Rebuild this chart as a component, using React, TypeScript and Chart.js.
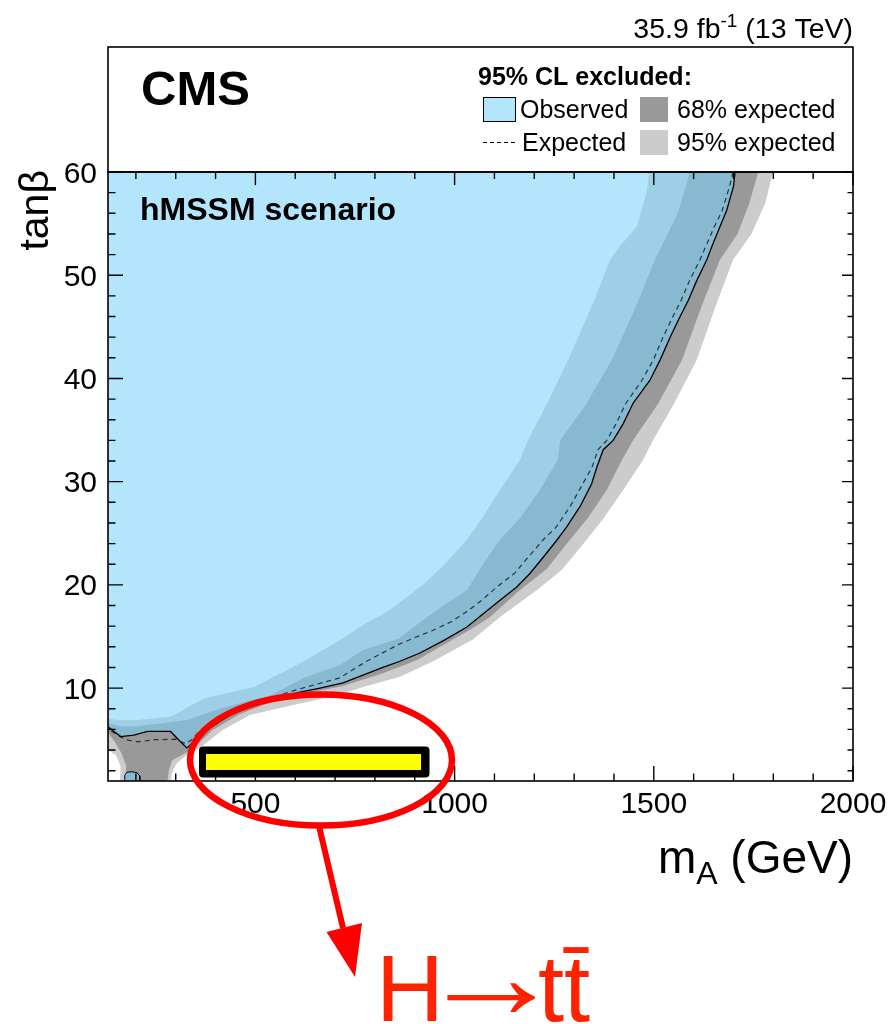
import { useEffect, useRef } from "react";
import { Chart, registerables } from "chart.js";

Chart.register(...registerables);

// Axis ranges
const M_MIN = 130;
const M_MAX = 2000;
const TB_MIN = 1;
const TB_MAX = 60;

// Labelled (major) ticks
const xMajorLabels = [500, 1000, 1500, 2000];
const yMajorLabels = [10, 20, 30, 40, 50, 60];

// Observed 95% CL contour, traced from tanβ = 60 down to the low-mass edge
const obsMass = [1704, 1700, 1683, 1666, 1649, 1633, 1608, 1587, 1566, 1541, 1516, 1490, 1448, 1423, 1398, 1373, 1357, 1344, 1315, 1281, 1256, 1223, 1189, 1156, 1114, 1072, 1030, 972, 913, 863, 820, 720, 662, 612, 512, 436, 373, 328, 312, 287, 229, 195, 162, 145, 130];
const obsTanb = [60, 58.6, 56.3, 54.7, 53.1, 51.5, 49.5, 47.6, 46.0, 44.0, 41.8, 39.8, 37.6, 35.6, 34.0, 33.1, 31.4, 29.8, 27.6, 25.6, 24.3, 22.7, 21.1, 19.8, 18.5, 17.2, 15.9, 14.6, 13.4, 12.6, 12.0, 10.5, 10.0, 9.6, 8.6, 7.4, 5.8, 4.2, 4.8, 5.8, 5.8, 5.45, 5.3, 5.8, 6.25];

// Median expected contour
const expMass = [1699, 1690, 1672, 1652, 1634, 1616, 1590, 1569, 1548, 1523, 1499, 1470, 1430, 1405, 1382, 1360, 1345, 1322, 1290, 1255, 1223, 1185, 1150, 1106, 1068, 1030, 990, 946, 863, 779, 712, 600, 500, 420, 361, 340, 325, 300, 250, 205, 175, 155, 140, 130];
const expTanb = [60, 58.6, 56.3, 54.7, 53.1, 51.5, 49.5, 47.6, 46.0, 44.0, 41.8, 39.8, 37.6, 35.6, 34.0, 33.1, 31.4, 29.8, 27.6, 25.6, 24.4, 22.7, 21.1, 19.8, 18.5, 17.4, 16.4, 15.6, 14.3, 12.6, 11.0, 9.8, 8.6, 7.3, 5.9, 5.0, 4.6, 5.05, 5.0, 4.8, 5.0, 5.4, 5.8, 6.2];

// Expected -2σ edge
const minus2Mass = [1488, 1482, 1457, 1415, 1390, 1350, 1285, 1235, 1184, 1164, 1114, 1070, 1031, 975, 920, 838, 779, 710, 617, 496, 371, 287, 204, 160, 130];
const minus2Tanb = [60, 58, 54.7, 52.8, 51.5, 47.5, 41.8, 37.8, 34.0, 32.1, 29.2, 26.5, 24.4, 22.0, 20.0, 17.6, 16.3, 14.6, 12.5, 10.1, 9.0, 7.22, 6.9, 6.9, 7.0];

// Expected -1σ edge
const minus1Mass = [1591, 1560, 1503, 1450, 1395, 1330, 1265, 1259, 1214, 1165, 1114, 1075, 1031, 963, 900, 860, 770, 710, 622, 538, 413, 329, 204, 160, 130];
const minus1Tanb = [60, 56, 51.5, 46.5, 41.8, 37.5, 34.0, 32.1, 29.2, 26.5, 24.4, 22.2, 19.5, 17.75, 16.0, 14.8, 13.7, 12.2, 11.0, 9.3, 8.06, 6.9, 6.3, 6.3, 6.6];

// Expected +1σ edge
const plus1Mass = [1762, 1740, 1710, 1666, 1620, 1571, 1510, 1448, 1420, 1382, 1335, 1290, 1230, 1164, 1089, 1045, 996, 905, 820, 720, 640, 535, 456, 391, 345, 315, 291, 283, 279, 172, 176, 164, 147, 134, 130];
const plus1Tanb = [60, 57, 54, 51.5, 47, 41.8, 37.5, 34.0, 32.1, 29.2, 26.5, 24.4, 21.5, 19.5, 16.9, 15.8, 14.7, 12.7, 11.45, 10.2, 9.6, 8.6, 7.4, 5.9, 4.2, 3.5, 3.0, 2.05, 1.0, 1.0, 2.4, 3.7, 4.8, 5.5, 5.7];

// Expected +2σ edge
const plus2Mass = [1799, 1780, 1745, 1699, 1655, 1608, 1550, 1498, 1473, 1423, 1375, 1332, 1270, 1207, 1114, 1046, 946, 863, 779, 695, 600, 486, 416, 360, 320, 300, 290, 288, 160, 162, 150, 130];
const plus2Tanb = [60, 57, 54, 51.5, 47, 41.8, 37.5, 34.0, 32.1, 29.2, 26.5, 24.4, 21.5, 19.5, 16.9, 14.7, 12.6, 11.1, 10.2, 9.2, 8.4, 7.4, 5.9, 4.2, 3.3, 2.6, 1.7, 1.0, 1.0, 2.4, 3.5, 4.0];

// Small observed island at low tanβ
const islandMass = [172, 172, 178, 190, 203, 209, 210];
const islandTanb = [1.0, 1.55, 1.85, 1.9, 1.8, 1.5, 1.0];

const OBS_FILL = "rgba(122, 209, 250, 0.57)";
const OBS_SWATCH = "rgb(179, 229, 252)";
const BAND68 = "#999999";
const BAND95 = "#cccccc";
const FONT = '"Liberation Sans", Arial, Helvetica, sans-serif';

const pts = (m: number[], t: number[]) => m.map((x, i) => ({ x, y: t[i] }));
// closed region bounded by the upper-left corner of the frame and a contour
const region = (m: number[], t: number[]) => [{ x: M_MIN, y: TB_MAX }, ...pts(m, t)];

const fillSet = (label: string, data: { x: number; y: number }[], color: string) => ({
  label,
  data,
  fill: "shape",
  backgroundColor: color,
  borderColor: "transparent",
  borderWidth: 0,
  pointRadius: 0,
});

function text(
  ctx: CanvasRenderingContext2D,
  s: string,
  x: number,
  y: number,
  size: number,
  align: CanvasTextAlign = "left",
  bold = false,
  color = "#000",
  family = FONT
) {
  ctx.font = `${bold ? "bold " : ""}${size}px ${family}`;
  ctx.fillStyle = color;
  ctx.textAlign = align;
  ctx.textBaseline = "alphabetic";
  ctx.fillText(s, x, y);
}

const decor = {
  id: "cmsDecor",
  afterDraw(chart: Chart) {
    const ctx = chart.ctx;
    const { left, right, top, bottom } = chart.chartArea;
    const xs = chart.scales.x;
    const ys = chart.scales.y;
    ctx.save();

    // frame and header box
    ctx.strokeStyle = "#000";
    ctx.lineWidth = 1.6;
    ctx.strokeRect(left, top, right - left, bottom - top);
    ctx.strokeRect(left, 47, right - left, top - 47);

    // inward ticks
    ctx.lineWidth = 1.4;
    ctx.beginPath();
    for (const t of xs.ticks) {
      const px = xs.getPixelForValue(t.value);
      const major = xMajorLabels.includes(t.value);
      ctx.moveTo(px, bottom);
      ctx.lineTo(px, bottom - (major ? 15 : 7.5));
      ctx.moveTo(px, top);
      ctx.lineTo(px, top + (major ? 13 : 7));
    }
    for (const t of ys.ticks) {
      const py = ys.getPixelForValue(t.value);
      const major = yMajorLabels.includes(t.value);
      ctx.moveTo(left, py);
      ctx.lineTo(left + (major ? 15 : 7.5), py);
      ctx.moveTo(right, py);
      ctx.lineTo(right - (major ? 11 : 5.5), py);
    }
    ctx.stroke();

    // tick labels
    for (const t of xs.ticks) {
      if (!xMajorLabels.includes(t.value)) continue;
      text(ctx, String(t.value), xs.getPixelForValue(t.value), 813, 30, "center");
    }
    for (const t of ys.ticks) {
      if (!yMajorLabels.includes(t.value)) continue;
      text(ctx, String(t.value), 97, ys.getPixelForValue(t.value) + 10.5, 30, "right");
    }

    // axis titles
    ctx.font = `46px ${FONT}`;
    const wParen = ctx.measureText(" (GeV)").width;
    const wM = ctx.measureText("m").width;
    ctx.font = `32px ${FONT}`;
    const wA = ctx.measureText("A").width;
    const x0 = right - wParen - wA - wM;
    text(ctx, "m", x0, 873, 46);
    text(ctx, "A", x0 + wM, 884, 32);
    text(ctx, " (GeV)", x0 + wM + wA, 873, 46);

    ctx.save();
    ctx.translate(48, 170);
    ctx.rotate(-Math.PI / 2);
    text(ctx, "tanβ", 0, 0, 41, "right");
    ctx.restore();

    // luminosity label
    ctx.font = `28.5px ${FONT}`;
    const wTail = ctx.measureText(" (13 TeV)").width;
    const wHead = ctx.measureText("35.9 fb").width;
    ctx.font = `19px ${FONT}`;
    const wSup = ctx.measureText("-1").width;
    const l0 = right - wTail - wSup - wHead;
    text(ctx, "35.9 fb", l0, 38, 28.5);
    text(ctx, "-1", l0 + wHead, 27, 19);
    text(ctx, " (13 TeV)", l0 + wHead + wSup, 38, 28.5);

    // header contents
    text(ctx, "CMS", 141, 105, 49, "left", true);
    text(ctx, "95% CL excluded:", 478, 85, 25, "left", true);
    ctx.fillStyle = OBS_SWATCH;
    ctx.fillRect(483, 97, 32, 24);
    ctx.lineWidth = 1;
    ctx.strokeStyle = "#000";
    ctx.strokeRect(483.5, 97.5, 32, 24);
    text(ctx, "Observed", 520, 118, 25);
    ctx.fillStyle = BAND68;
    ctx.fillRect(640, 97, 28, 25);
    text(ctx, "68% expected", 677, 118, 25);
    ctx.beginPath();
    ctx.setLineDash([4, 3]);
    ctx.moveTo(483, 142.5);
    ctx.lineTo(516, 142.5);
    ctx.stroke();
    ctx.setLineDash([]);
    text(ctx, "Expected", 522, 151, 25);
    ctx.fillStyle = BAND95;
    ctx.fillRect(640, 130, 28, 25);
    text(ctx, "95% expected", 677, 151, 25);

    text(ctx, "hMSSM scenario", 140, 220, 32, "left", true);

    // highlighted low-tanβ window
    ctx.fillStyle = "#000";
    ctx.beginPath();
    ctx.roundRect(199, 746.5, 230.5, 31, 4);
    ctx.fill();
    ctx.fillStyle = "#ffff00";
    ctx.fillRect(206, 754, 215, 16);

    ctx.strokeStyle = "#ff0000";
    ctx.lineWidth = 6.5;
    ctx.beginPath();
    ctx.ellipse(321, 760, 131, 65.5, 0, 0, Math.PI * 2);
    ctx.stroke();

    ctx.lineWidth = 6;
    ctx.beginPath();
    ctx.moveTo(319, 826);
    ctx.lineTo(343, 928);
    ctx.stroke();
    ctx.fillStyle = "#ff0000";
    ctx.beginPath();
    ctx.moveTo(326.5, 932);
    ctx.lineTo(362, 923);
    ctx.lineTo(355, 977);
    ctx.closePath();
    ctx.fill();

    // process label: H → t t̄
    const red = "#ff2200";
    text(ctx, "H", 376, 1021, 94, "left", false, red);
    ctx.font = `94px ${FONT}`;
    const am = ctx.measureText("→");
    const aw = am.actualBoundingBoxLeft + am.actualBoundingBoxRight;
    const ah = am.actualBoundingBoxAscent + am.actualBoundingBoxDescent;
    const sx = 88 / aw;
    const sy = 30 / ah;
    ctx.save();
    ctx.translate(447, 998);
    ctx.scale(sx, sy);
    ctx.fillStyle = red;
    ctx.textAlign = "left";
    ctx.textBaseline = "alphabetic";
    ctx.fillText("→", am.actualBoundingBoxLeft, (am.actualBoundingBoxAscent - am.actualBoundingBoxDescent) / 2);
    ctx.restore();
    text(ctx, "tt\u0304", 538, 1021, 94, "left", false, red);
    ctx.restore();
  },
};

export default function App() {
  const canvasRef = useRef<HTMLCanvasElement | null>(null);

  useEffect(() => {
    const canvas = canvasRef.current;
    if (!canvas) return;
    const chart = new Chart(canvas, {
      type: "line",
      data: {
        datasets: [
          {
            label: "Expected",
            data: pts(expMass, expTanb),
            borderColor: "rgba(10, 20, 30, 0.8)",
            borderWidth: 1.2,
            borderDash: [5, 4],
            fill: false,
            pointRadius: 0,
          },
          {
            label: "Observed (island)",
            data: pts(islandMass, islandTanb),
            borderColor: "#000",
            borderWidth: 1,
            backgroundColor: OBS_FILL,
            fill: "shape",
            pointRadius: 0,
          },
          {
            label: "Observed",
            data: pts(obsMass, obsTanb),
            borderColor: "#000",
            borderWidth: 1.3,
            fill: false,
            pointRadius: 0,
          },
          fillSet("Observed excluded", region(obsMass, obsTanb), OBS_FILL),
          fillSet("Expected -2σ", region(minus2Mass, minus2Tanb), "#ffffff"),
          fillSet("Expected -1σ", region(minus1Mass, minus1Tanb), BAND95),
          fillSet("Expected +1σ", region(plus1Mass, plus1Tanb), BAND68),
          fillSet("Expected +2σ", region(plus2Mass, plus2Tanb), BAND95),
        ] as any,
      },
      options: {
        animation: false,
        responsive: false,
        maintainAspectRatio: false,
        devicePixelRatio: 1,
        events: [],
        layout: { padding: { left: 0, top: 172, right: 40, bottom: 0 } },
        elements: { line: { tension: 0 }, point: { radius: 0, hoverRadius: 0 } },
        plugins: { legend: { display: false }, tooltip: { enabled: false } },
        scales: {
          x: {
            type: "linear",
            min: M_MIN,
            max: M_MAX,
            grid: { display: false },
            border: { display: false },
            ticks: { display: false, stepSize: 100, autoSkip: false, includeBounds: false },
            afterFit: (s: any) => {
              s.height = 243;
            },
          },
          y: {
            type: "linear",
            min: TB_MIN,
            max: TB_MAX,
            grid: { display: false },
            border: { display: false },
            ticks: { display: false, stepSize: 2, autoSkip: false, includeBounds: false },
            afterFit: (s: any) => {
              s.width = 108;
            },
          },
        },
      },
      plugins: [decor],
    });
    return () => chart.destroy();
  }, []);

  return (
    <div style={{ position: "absolute", left: 0, top: 0, width: 893, height: 1024, background: "#fff" }}>
      <canvas ref={canvasRef} width={893} height={1024} style={{ display: "block" }} />
    </div>
  );
}
